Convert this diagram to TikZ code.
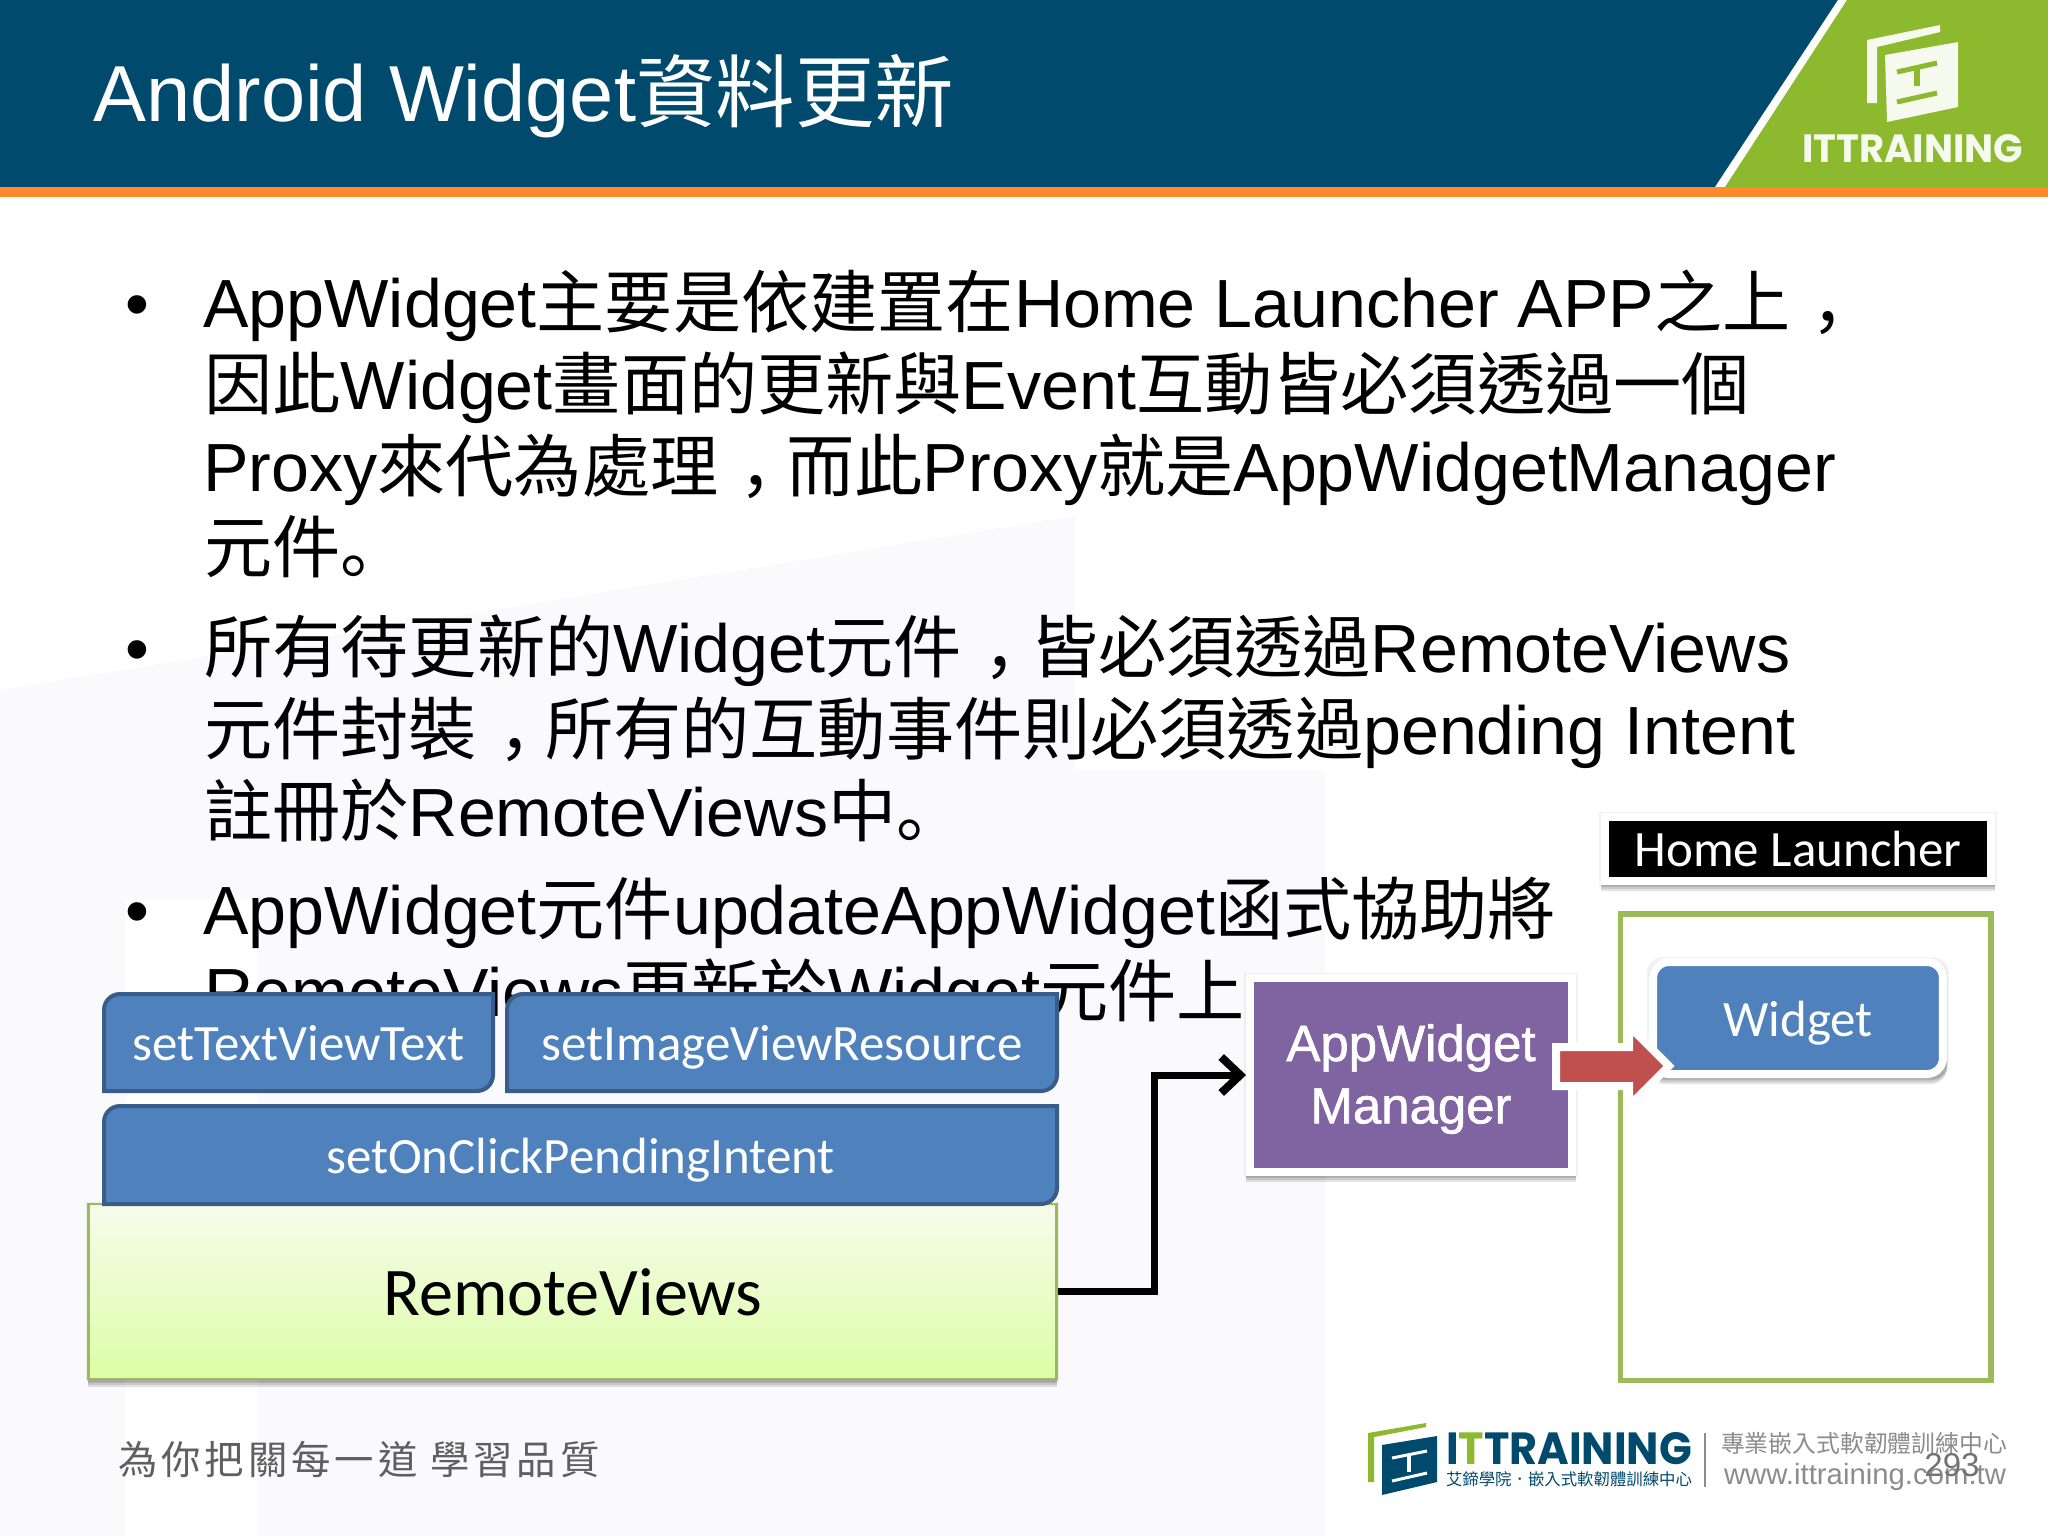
\documentclass[tikz,border=0pt]{standalone}
\usepackage{graphicx}
\usepackage{fontspec}
\setmainfont{Liberation Sans}
\newfontfamily\zh{Noto Sans CJK TC}
\newfontfamily\zhlow{Noto Sans CJK SC}
\newfontfamily\zhwide[LetterSpace=10]{Noto Sans CJK TC}
\newfontfamily\calib{Carlito}
\newfontfamily\logofont{Poppins}
\newfontfamily\heavyish[FakeBold=1.2]{Liberation Sans}
\usetikzlibrary{arrows.meta}
\definecolor{headBlue}{HTML}{004A6E}
\definecolor{headGreen}{HTML}{8DB92E}
\definecolor{headOrange}{HTML}{FF8A2B}
\definecolor{paleBack}{HTML}{FAF9FB}
\definecolor{barBlue}{HTML}{4F81BD}
\definecolor{barEdge}{HTML}{385D8A}
\definecolor{frameGreen}{HTML}{9BBB59}
\definecolor{remoteTop}{HTML}{F6FCEC}
\definecolor{remoteBot}{HTML}{DDFDA6}
\definecolor{managerPurple}{HTML}{8064A2}
\definecolor{pushRed}{HTML}{C0504D}
\definecolor{footGray}{HTML}{5F5F5F}
\definecolor{markGray}{HTML}{8C8C8C}
\def\zhcomma{\kern.31em{\zhlow ，}\kern-.31em}
\def\zhstop{{\zhlow 。}}
\def\bodysize{\fontsize{38.8}{46}\selectfont}
\def\diagbar(#1)(#2,#3)(#4,#5)#6{
	\draw[barline] (#2,{(#3+#5)/2}) [rounded corners=0.32cm] -- (#2,#3) [sharp corners] -- (#4,#3) [rounded corners=0.32cm] -- (#4,#5) [sharp corners] -- (#2,#5) -- cycle;
	\node[bartext] (#1) at ({(#2+#4)/2},{(#3+#5)/2+18}) {#6};
}
\def\softshadow[#1](#2,#3)(#4,#5){
	\fill[black, opacity=0.05, #1] (#2-2,#3-1) rectangle (#4+2,#5+1);
	\fill[black, opacity=0.11, #1] (#2,#3+2) rectangle (#4,#5+2);
	\fill[black, opacity=0.11, #1] (#2,#3+4) rectangle (#4,#5+4);
	\fill[black, opacity=0.11, #1] (#2,#3+6) rectangle (#4,#5+6);
}
\tikzset{
	bodyline/.style={anchor=base west, inner sep=0, font=\bodysize},
	barline/.style={fill=barBlue, draw=barEdge, line width=0.8mm},
	bartext/.style={anchor=base, inner sep=0, text=white, font=\calib\fontsize{29}{34}\selectfont},
	whitebox/.style={draw=white, line width=1.6mm},
	flowline/.style={line width=1.4mm, -{Straight Barb[length=3.8mm, width=7.2mm, line width=1.6mm]}, line join=miter},
}
\begin{document}
\begin{tikzpicture}[x=0.02cm, y=-0.02cm]
	\useasboundingbox (0,0) rectangle (2048,1536);
	\fill[white] (0,0) rectangle (2048,1536);
	
	% pale backdrop
	\fill[paleBack] (0,690) -- (1075,516) -- (1075,770) -- (1325,770) -- (1325,1536) -- (0,1536) -- cycle;
	\fill[white] (125,900) rectangle (258,1536);
	
	% header
	\fill[headBlue] (0,0) rectangle (2048,187);
	\fill[white] (1838,0) -- (2048,0) -- (2048,187) -- (1715,187) -- cycle;
	\fill[headGreen] (1847,0) -- (2048,0) -- (2048,187) -- (1725,187) -- cycle;
	\fill[headOrange] (0,187) rectangle (2048,197);
	\node[anchor=base west, inner sep=0, text=white, font=\fontsize{45.2}{54}\selectfont] (title) at (93,121) {Android Widget{\zh 資料更新}};
	
	\fill[white!92!headGreen] (1867,40) -- (1940,25) -- (1940,32) -- (1877,47) -- (1877,103) -- (1867,103) -- cycle;
	\fill[white!92!headGreen] (1885,55) -- (1958,42) -- (1958,107) -- (1887,122) -- cycle;
	\draw[headGreen, line width=1mm] (1897,72) -- (1937,63);
	\draw[headGreen, line width=1.2mm] (1917,66) -- (1917,86);
	\draw[headGreen, line width=1mm] (1897,102) -- (1937,93);
	\node[inner sep=0, text=white!92!headGreen] (headLogo) at (1912.5,149) {\resizebox{4.42cm}{0.56cm}{\logofont\bfseries ITTRAINING}};
	
	% bullets and text
	\node[bodyline] (dotA) at (125,327) {•};
	\node[bodyline] (lineA) at (203,327) {AppWidget{\zh 主要是依建置在}Home Launcher APP{\zh 之上\zhcomma}};
	\node[bodyline] (lineB) at (204,409) {{\zh 因此}Widget{\zh 畫面的更新與}Event{\zh 互動皆必須透過一個}};
	\node[bodyline] (lineC) at (203,491) {Proxy{\zh 來代為處理\zhcomma{}而此}Proxy{\zh 就是}AppWidgetManager};
	\node[bodyline] (lineD) at (204,572) {{\zh 元件}\zhstop};
	\node[bodyline] (dotB) at (125,672) {•};
	\node[bodyline] (lineE) at (204,672) {{\zh 所有待更新的}Widget{\zh 元件\zhcomma{}皆必須透過}RemoteViews};
	\node[bodyline] (lineF) at (204,754) {{\zh 元件封裝\zhcomma{}所有的互動事件則必須透過}pending Intent};
	\node[bodyline] (lineG) at (204,836) {{\zh 註冊於}RemoteViews{\zh 中}\zhstop};
	\node[bodyline] (dotC) at (125,934) {•};
	\node[bodyline] (lineH) at (203,934) {AppWidget{\zh 元件}updateAppWidget{\zh 函式協助將}};
	\node[bodyline] (lineI) at (204,1016) {RemoteViews{\zh 更新於}Widget{\zh 元件上}};
	
	% stack
	\softshadow[](88,1203)(1057,1381)
	\node[draw=frameGreen, line width=0.5mm, top color=remoteTop, bottom color=remoteBot, minimum width=19.36cm, minimum height=3.5cm, inner sep=0] (remote) at (572.5,1291.5) {};
	\node[inner sep=0, font=\calib\fontsize{38.8}{46}\selectfont] (remoteText) at (573,1292) {RemoteViews};
	\diagbar(textBar)(104,994)(493,1091){setTextViewText}
	\diagbar(imageBar)(507,994)(1057,1091){setImageViewResource}
	\diagbar(clickBar)(104,1106)(1057,1204){setOnClickPendingIntent}
	
	% manager and launcher
	\softshadow[](1246,974)(1576,1176)
	\node[whitebox, fill=managerPurple, minimum width=6.44cm, minimum height=3.88cm, inner sep=0] (manager) at (1411,1075) {};
	\node[align=center, inner sep=0, text=white, font=\heavyish\fontsize{29}{35.5}\selectfont] (managerText) at (1411,1079) {AppWidget\\Manager};
	\draw[flowline] (remote.east) -- ++(97,0) |- (manager.west);
	
	\softshadow[](1601,813)(1995,885)
	\node[whitebox, fill=black, minimum width=7.72cm, minimum height=1.28cm, inner sep=0, text=white, font=\calib\fontsize{29}{34}\selectfont] (launcher) at (1798,849) {Home Launcher};
	\draw[frameGreen, line width=1.1mm] (1620.5,914) rectangle (1991,1380.5);
	\softshadow[rounded corners=0.32cm](1649,958)(1947,1078)
	\node[whitebox, rounded corners=0.32cm, fill=barBlue, minimum width=5.8cm, minimum height=2.24cm, inner sep=0] (widget) at (1798,1018) {};
	\node[anchor=base, inner sep=0, text=white, font=\calib\fontsize{29}{34}\selectfont] (widgetText) at (1798,1036) {Widget};
	\filldraw[fill=pushRed, draw=white, line width=1.6mm, line join=miter, miter limit=10] (1556,1047) -- (1629,1047) -- (1629,1026) -- (1669,1066) -- (1629,1106) -- (1629,1086) -- (1556,1086) -- cycle;
	
	% footer
	\node[anchor=base west, inner sep=0, text=footGray, font=\zhwide\fontsize{22.4}{26}\selectfont] (motto) at (118,1474) {為你把關每一道 學習品質};
	\fill[headGreen] (1368,1433) -- (1426,1423) -- (1426,1427) -- (1374,1437) -- (1374,1482) -- (1368,1482) -- cycle;
	\fill[headBlue] (1382,1445) -- (1437,1436) -- (1437,1482) -- (1382,1495) -- cycle;
	\draw[white, line width=0.6mm] (1392,1458) -- (1427,1451);
	\draw[white, line width=0.7mm] (1409,1454) -- (1409,1472);
	\draw[white, line width=0.6mm] (1392,1481) -- (1427,1473);
	\node[inner sep=0, text=headBlue] (footLogo) at (1569,1449) {\resizebox{4.92cm}{0.64cm}{\logofont\bfseries I{\color{headGreen}T}TRAINING}};
	\node[inner sep=0, text=headBlue] (footSub) at (1569,1479.5) {\resizebox{4.92cm}{!}{\zh\fontsize{12}{14}\selectfont 艾鍗學院．嵌入式軟韌體訓練中心}};
	\draw[markGray, line width=0.3mm] (1705,1433) -- (1705,1487);
	\node[inner sep=0, text=markGray] (footTag) at (1864,1443) {\resizebox{5.72cm}{!}{\zh\fontsize{12}{14}\selectfont 專業嵌入式軟韌體訓練中心}};
	\node[inner sep=0, text=markGray] (footUrl) at (1865,1477) {\resizebox{5.64cm}{!}{\fontsize{14}{16}\selectfont www.ittraining.com.tw}};
	\node[inner sep=0, text=black!55, font=\fontsize{18.8}{22}\selectfont] (pageNum) at (1952,1465) {293};
\end{tikzpicture}
\end{document}
